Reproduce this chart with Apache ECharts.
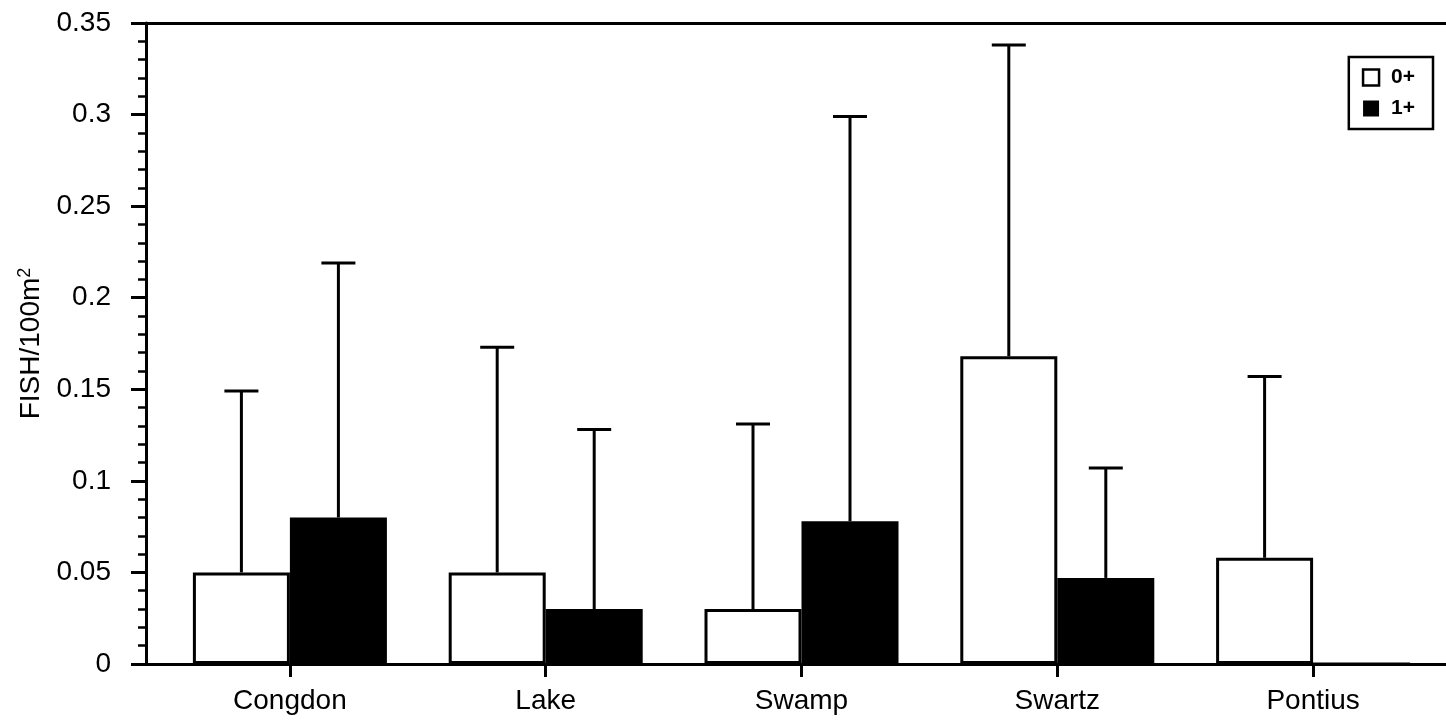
<!DOCTYPE html>
<html>
<head>
<meta charset="utf-8">
<style>
  html, body { margin: 0; padding: 0; background: #fff; }
  #chart { width: 1446px; height: 723px; }
</style>
<script src="https://cdn.jsdelivr.net/npm/echarts@6/dist/echarts.min.js"></script>
</head>
<body>
<div id="chart"></div>
<script>
// Fish density per site, by age class (mean and upper error limit)
const sites = ['Congdon', 'Lake', 'Swamp', 'Swartz', 'Pontius'];
const ageClasses = ['0+', '1+'];
const mean0 = [0.05, 0.05, 0.03, 0.168, 0.058];
const upper0 = [0.149, 0.173, 0.131, 0.338, 0.157];
const mean1 = [0.08, 0.03, 0.078, 0.047, 0];
const upper1 = [0.219, 0.128, 0.299, 0.107, null];
const yTicks = { min: 0, max: 0.35, step: 0.05 };

const FONT = 'Liberation Sans, Arial, Helvetica, sans-serif';
const BAR_W = 97;

function errorBars(means, uppers, side) {
  return {
    type: 'custom',
    xAxisIndex: 2,
    yAxisIndex: 1,
    z: 5,
    silent: true,
    data: means.map((m, i) => [i, m, uppers[i]]),
    renderItem: function (params, api) {
      const up = api.value(2);
      if (up === null || up === undefined || isNaN(up)) return null;
      const base = api.coord([api.value(0), api.value(1)]);
      const top = api.coord([api.value(0), up]);
      const x = base[0] + side * BAR_W / 2;
      const cap = 17;
      const style = { stroke: '#000', lineWidth: 3 };
      return {
        type: 'group',
        children: [
          { type: 'line', shape: { x1: x, y1: base[1], x2: x, y2: top[1] }, style },
          { type: 'line', shape: { x1: x - cap, y1: top[1], x2: x + cap, y2: top[1] }, style }
        ]
      };
    }
  };
}

const chart = echarts.init(document.getElementById('chart'), null, { renderer: 'canvas' });

chart.setOption({
  backgroundColor: '#fff',
  animation: false,
  grid: [
    { left: 146, right: 0, top: 23, bottom: 59 },
    { left: 162, right: 5, top: 23, bottom: 59 }
  ],
  legend: {
    orient: 'vertical',
    right: 13,
    top: 57,
    padding: [10, 18, 10, 13],
    itemWidth: 16,
    itemHeight: 16,
    itemGap: 10,
    borderColor: '#000',
    borderWidth: 2.5,
    icon: 'rect',
    textStyle: { fontFamily: FONT, fontWeight: 'bold', fontSize: 21, color: '#000', padding: [0, 0, 0, 7] },
    data: [
      { name: ageClasses[0], itemStyle: { color: '#fff', borderColor: '#000', borderWidth: 2.5 } },
      { name: ageClasses[1], itemStyle: { color: '#000', borderColor: '#000', borderWidth: 0 } }
    ]
  },
  xAxis: [
    // baseline
    {
      type: 'value', gridIndex: 0, position: 'bottom', min: 0, max: 1,
      axisLine: { show: true, lineStyle: { color: '#000', width: 3 } },
      axisTick: { show: false }, axisLabel: { show: false }, splitLine: { show: false }
    },
    // top frame line
    {
      type: 'value', gridIndex: 0, position: 'top', min: 0, max: 1,
      axisLine: { show: true, lineStyle: { color: '#000', width: 3 } },
      axisTick: { show: false }, axisLabel: { show: false }, splitLine: { show: false }
    },
    // site categories
    {
      type: 'category', gridIndex: 1, data: sites, boundaryGap: true,
      axisLine: { show: false },
      axisTick: { show: true, alignWithLabel: true, length: 13, lineStyle: { color: '#000', width: 3 } },
      axisLabel: { margin: 23, color: '#000', fontFamily: FONT, fontSize: 28 },
      splitLine: { show: false }
    }
  ],
  yAxis: [
    {
      type: 'value', gridIndex: 0,
      min: yTicks.min, max: yTicks.max, interval: yTicks.step,
      name: '{a|FISH/100m}{s|2}',
      nameLocation: 'middle',
      nameRotate: 90,
      nameGap: 86,
      nameTextStyle: {
        color: '#000',
        rich: {
          a: { fontFamily: FONT, fontSize: 28, color: '#000' },
          s: { fontFamily: FONT, fontSize: 18, color: '#000', verticalAlign: 'top', padding: [0, 0, 14, 0] }
        }
      },
      axisLine: { show: true, lineStyle: { color: '#000', width: 3 } },
      axisTick: { show: true, inside: false, length: 15, lineStyle: { color: '#000', width: 3 } },
      minorTick: { show: true, splitNumber: 5, length: 8, lineStyle: { color: '#000', width: 2.5 } },
      axisLabel: {
        margin: 35, color: '#000', fontFamily: FONT, fontSize: 28,
        formatter: v => String(Math.round(v * 100) / 100)
      },
      splitLine: { show: false }
    },
    {
      type: 'value', gridIndex: 1,
      min: yTicks.min, max: yTicks.max, interval: yTicks.step,
      show: false
    }
  ],
  series: [
    {
      name: ageClasses[0], type: 'bar', xAxisIndex: 2, yAxisIndex: 1,
      data: mean0, barWidth: BAR_W, barGap: '0%',
      itemStyle: { color: '#fff', borderColor: '#000', borderWidth: 3 },
      z: 3
    },
    {
      name: ageClasses[1], type: 'bar', xAxisIndex: 2, yAxisIndex: 1,
      data: mean1, barWidth: BAR_W, barGap: '0%',
      itemStyle: { color: '#000', borderColor: '#000', borderWidth: 3 },
      z: 2
    },
    errorBars(mean0, upper0, -1),
    errorBars(mean1, upper1, 1)
  ]
});
</script>
</body>
</html>
